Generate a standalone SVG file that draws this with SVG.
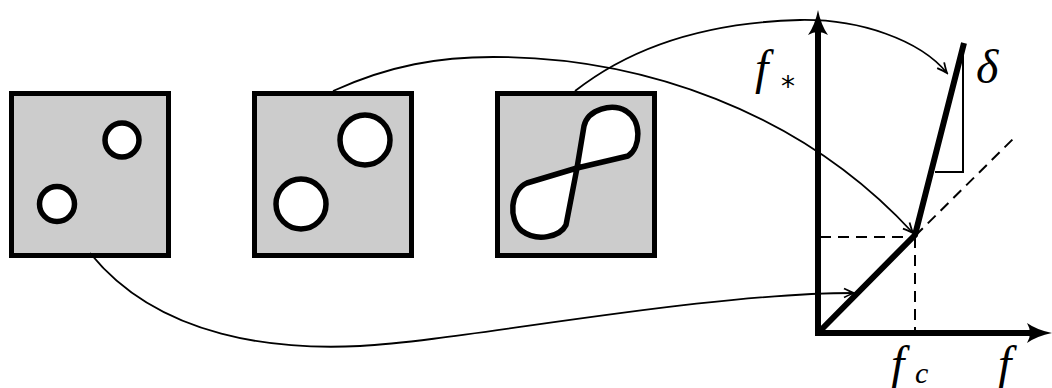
<svg xmlns="http://www.w3.org/2000/svg" width="1052" height="388" viewBox="0 0 1052 388">
<style>
.box{fill:#cccccc;stroke:#000;stroke-width:5}
.hole{fill:#fff;stroke:#000;stroke-width:5.5}
.conn{fill:none;stroke:#000;stroke-width:1.8}
.axis{fill:none;stroke:#000;stroke-width:6}
.thin{fill:none;stroke:#000;stroke-width:2}
.dash{fill:none;stroke:#000;stroke-width:2;stroke-dasharray:11,7}
.lbl{font-family:"Liberation Serif",serif;font-style:italic;fill:#000}
</style>
<defs>
<marker id="arr" markerWidth="14" markerHeight="12" viewBox="-12 -6 14 12" refX="0" refY="0" orient="auto" markerUnits="userSpaceOnUse">
<path d="M-10,-4.5 Q-3,-1 0,0 Q-3,1 -10,4.5" fill="none" stroke="#000" stroke-width="1.8"/>
</marker>
</defs>
<g id="node-box1">
<rect class="box" x="11.5" y="93.5" width="157" height="162"/>
<circle class="hole" cx="122" cy="140" r="17"/>
<circle class="hole" cx="57" cy="204" r="17.5"/>
</g>
<g id="node-box2">
<rect class="box" x="254.5" y="93.5" width="157" height="162"/>
<circle class="hole" cx="365" cy="140" r="25"/>
<circle class="hole" cx="301" cy="204" r="25"/>
</g>
<g id="node-box3">
<rect class="box" x="497.5" y="93.5" width="157" height="162"/>
<path class="hole" stroke-linejoin="round" d="M577,168 L584,126 C588,109 612,103 626,111 C642,121 641,147 628,156 Z"/>
<path class="hole" stroke-linejoin="round" d="M577,168 L527,183 C510,190 508,220 522,231 C537,242 560,237 566,225 Z"/>
</g>
<g id="node-graph">
<line class="axis" x1="818" y1="336" x2="818" y2="22"/>
<line class="axis" x1="815" y1="333" x2="1040" y2="333"/>
<path d="M818,10 Q821,25 828,35 Q818,29 808,35 Q815,25 818,10 Z" fill="#000"/>
<path d="M1052,333 Q1037,336 1027,343 Q1033,333 1027,323 Q1037,330 1052,333 Z" fill="#000"/>
<line class="dash" x1="820" y1="237" x2="915" y2="237"/>
<line class="dash" x1="915" y1="237" x2="915" y2="331"/>
<line class="dash" x1="915" y1="236" x2="1013" y2="139"/>
<polyline class="thin" points="963,43 963,172 935,172"/>
<polyline fill="none" stroke="#000" stroke-width="6" stroke-linejoin="miter" points="818,333 915,235 964,43"/>
<text class="lbl" x="755" y="84" font-size="48">f</text>
<text x="781" y="96" font-family="'DejaVu Sans',sans-serif" font-size="28" fill="#000">*</text>
<text class="lbl" x="976" y="83" font-size="48">δ</text>
<text class="lbl" x="891" y="380" font-size="48">f</text>
<text class="lbl" x="915" y="383" font-size="30">c</text>
<text class="lbl" x="998" y="380" font-size="48">f</text>
</g>
<g id="connectors">
<path class="conn" marker-end="url(#arr)" d="M90,253 C160,340 280,350 360,346 C460,341 700,293 854,293"/>
<path class="conn" marker-end="url(#arr)" d="M333,91 C390,65 440,57 493,57 C640,57 800,110 913,233"/>
<path class="conn" marker-end="url(#arr)" d="M575,91 C640,40 720,22 800,20 C860,19 920,40 947,73"/>
</g>
</svg>
